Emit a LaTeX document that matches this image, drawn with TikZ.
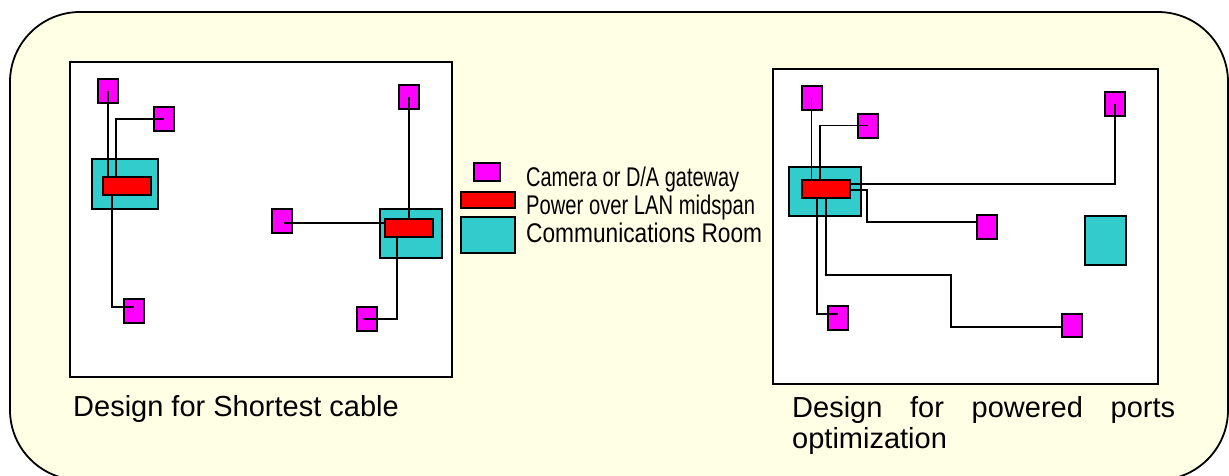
\documentclass[tikz,border=0pt]{standalone}
\usepackage{fontspec}
\setmainfont{Liberation Sans}
\usetikzlibrary{calc}
\definecolor{bgyellow}{RGB}{255,255,230}
\definecolor{cammag}{RGB}{255,0,255}
\definecolor{midred}{RGB}{255,0,0}
\definecolor{roomcyan}{RGB}{51,204,204}
\tikzset{
  panel/.style={draw=black, line width=2.2pt, fill=white, inner sep=0pt},
  cambox/.style={draw=black, line width=2pt, fill=cammag, inner sep=0pt, minimum width=20pt, minimum height=24pt},
  midbox/.style={draw=black, line width=2pt, fill=midred, inner sep=0pt, minimum width=48pt, minimum height=18pt},
  roombox/.style={draw=black, line width=2pt, fill=roomcyan, inner sep=0pt},
  cable/.style={draw=black, line width=1.8pt},
  legtext/.style={anchor=base west, inner sep=0pt, font=\fontsize{27}{29}\selectfont},
  captext/.style={anchor=base west, inner sep=0pt, font=\fontsize{29}{31}\selectfont}
}
\begin{document}
\begin{tikzpicture}[x=1pt, y=-1pt]
\useasboundingbox (0,0) rectangle (1229,475);
% outer rounded frame
\draw[line width=1.8pt, fill=bgyellow, rounded corners=70pt] (10,12) rectangle (1228,480);

% ---------------- left panel ----------------
\node[panel, minimum width=382pt, minimum height=315pt] (panelL) at (261,219.5) {};
\node[roombox, minimum width=66pt, minimum height=50pt] (roomL1) at (125,184) {};
\node[midbox] (midL1) at (127,186) {};
\node[roombox, minimum width=62pt, minimum height=49pt] (roomL2) at (411,233.5) {};
\node[midbox] (midL2) at (409,228) {};
\node[cambox] (camL1) at (108,91) {};
\node[cambox] (camL2) at (164,119) {};
\node[cambox] (camL3) at (134,311) {};
\node[cambox] (camL4) at (409,97) {};
\node[cambox] (camL5) at (282,221) {};
\node[cambox] (camL6) at (367,319) {};

\draw[cable] (camL1.center) -- (camL1.center |- midL1.north);
\draw[cable] (camL2.center) -| ($(midL1.north west)+(14,0)$);
\draw[cable] ($(midL1.south west)+(10,0)$) |- ($(camL3.center)+(0,-4)$);
\draw[cable] (camL4.center) -- (camL4.center |- midL2.north);
\draw[cable] ($(camL5.center)+(2,2)$) -- ($(midL2.west)+(0,-5)$);
\draw[cable] ($(midL2.south west)+(13,0)$) |- ($(camL6.center)+(-4,0)$);

% ---------------- legend ----------------
\node[cambox, minimum width=26pt, minimum height=18pt] (legCam) at (487,172) {};
\node[midbox, minimum width=54pt, minimum height=16pt] (legMid) at (488,200) {};
\node[roombox, minimum width=54pt, minimum height=36pt] (legRoom) at (488,235) {};
\node[legtext] (legT1) at (526,186) {\resizebox{213pt}{\height}{Camera or D/A gateway}};
\node[legtext] (legT2) at (526,214) {\resizebox{229pt}{\height}{Power over LAN midspan}};
\node[legtext] (legT3) at (526,242) {\resizebox{236pt}{\height}{Communications Room}};

% ---------------- right panel ----------------
\node[panel, minimum width=385pt, minimum height=315pt] (panelR) at (965.5,226.5) {};
\node[roombox, minimum width=72pt, minimum height=49pt] (roomR1) at (825,191.5) {};
\node[midbox] (midR) at (826,189) {};
\node[roombox, minimum width=41pt, minimum height=49pt] (roomR2) at (1105.5,240.5) {};
\node[cambox] (camR1) at (811.5,98) {};
\node[cambox] (camR2) at (868,125.5) {};
\node[cambox] (camR3) at (1115,104) {};
\node[cambox] (camR4) at (987,227) {};
\node[cambox] (camR5) at (838,318) {};
\node[cambox, minimum height=23pt] (camR6) at (1072,325.5) {};
\coordinate (jR) at (826,275);

\draw[cable] (camR1.center) -- (camR1.center |- midR.north);
\draw[cable] (camR2.center) -| ($(midR.north west)+(19,0)$);
\draw[cable] (camR3.center) |- ($(midR.east)+(0,-5)$);
\draw[cable] ($(midR.east)+(0,1)$) -- ++(16,0) |- ($(camR4.west)+(0,-5)$);
\draw[cable] ($(midR.south west)+(16,0)$) |- ($(camR5.center)+(0,-4)$);
\draw[cable] ($(midR.south west)+(25,0)$) -- (jR) -- ++(125,0) |- ($(camR6.west)+(2,1.5)$);
\fill (jR) circle (1.4pt);

% ---------------- captions ----------------
\node[captext] (capL) at (73,416) {Design for Shortest cable};
\node[captext] (capR1) at (792,417) {\makebox[383pt][s]{Design\hfill for\hfill powered\hfill ports}};
\node[captext] (capR2) at (792,448) {optimization};
\end{tikzpicture}
\end{document}
